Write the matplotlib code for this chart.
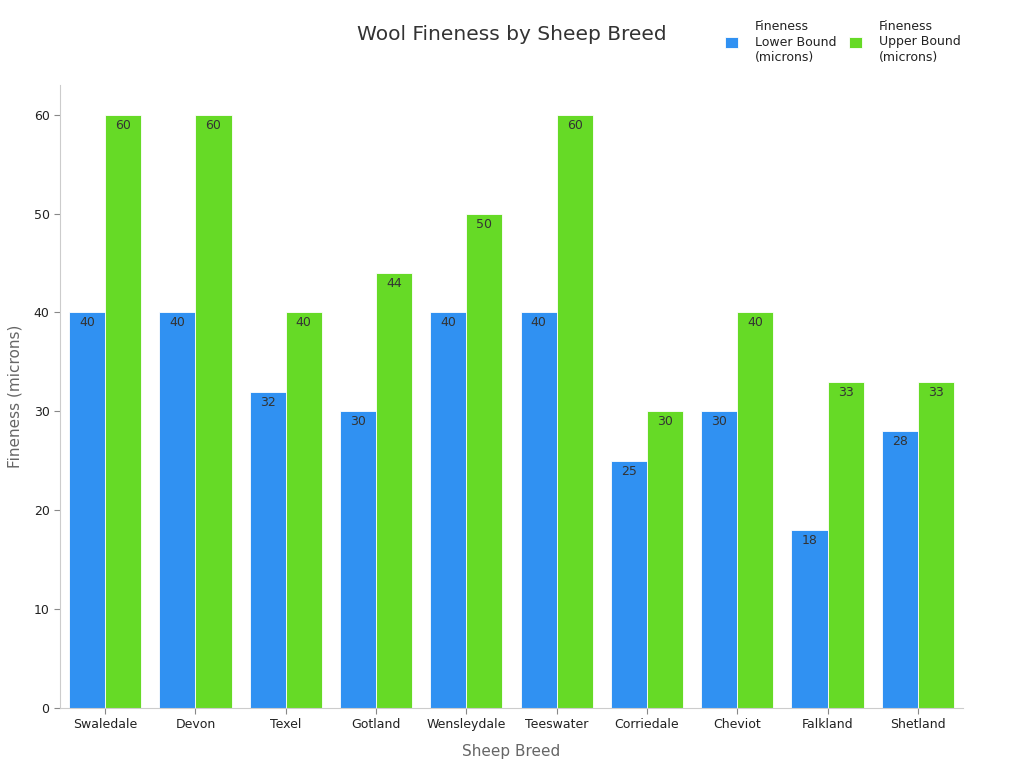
import matplotlib
matplotlib.use("Agg")
import matplotlib.pyplot as plt
import numpy as np

breeds = ["Swaledale", "Devon", "Texel", "Gotland", "Wensleydale", "Teeswater",
          "Corriedale", "Cheviot", "Falkland", "Shetland"]
lower = [40, 40, 32, 30, 40, 40, 25, 30, 18, 28]
upper = [60, 60, 40, 44, 50, 60, 30, 40, 33, 33]
series_labels = ["Fineness\nLower Bound\n(microns)", "Fineness\nUpper Bound\n(microns)"]

plt.rcParams['font.family'] = ['DejaVu Sans']
fig = plt.figure(figsize=(10.24, 7.68), dpi=100)
ax = fig.add_axes([60/1024, 1-708/768, 903/1024, 623/768])

x = np.arange(len(breeds))
w = 0.4
b1 = ax.bar(x - w/2, lower, w, color="#3091F2", edgecolor="white", linewidth=0.6, label=series_labels[0])
b2 = ax.bar(x + w/2, upper, w, color="#66DA26", edgecolor="white", linewidth=0.6, label=series_labels[1])
for bars, vals in ((b1, lower), (b2, upper)):
    for r, v in zip(bars, vals):
        ax.text(r.get_x() + r.get_width()/2, v - 0.4, f"{v}", ha="center", va="top",
                fontsize=9, color="#333333")

ax.set_xlim(-0.5, len(breeds) - 0.5)
ax.set_ylim(0, 63)
ax.set_yticks([0, 10, 20, 30, 40, 50, 60])
ax.set_xticks(x)
ax.set_xticklabels(breeds, fontsize=9, color="#222222")
ax.tick_params(axis="y", labelsize=9, colors="#222222")
ax.tick_params(axis="both", color="#888888", length=4)
for s in ("top", "right"):
    ax.spines[s].set_visible(False)
for s in ("left", "bottom"):
    ax.spines[s].set_color("#cccccc")
ax.set_xlabel("Sheep Breed", fontsize=11, color="#666666", labelpad=9)
ax.set_ylabel("Fineness (microns)", fontsize=11, color="#666666", labelpad=8)

fig.text(512/1024, 1-35/768, "Wool Fineness by Sheep Breed", ha="center", va="center",
         fontsize=14.5, color="#333333")
leg = fig.legend(handles=[b1, b2], labels=series_labels, loc="center", bbox_to_anchor=(843/1024, 1-42/768),
           ncol=2, frameon=False, fontsize=9, handlelength=1.0, handleheight=1.0,
           columnspacing=1.0, handletextpad=1.4)
for t in leg.get_texts():
    t.set_color("#222222")

fig.savefig("out.png", dpi=100)
